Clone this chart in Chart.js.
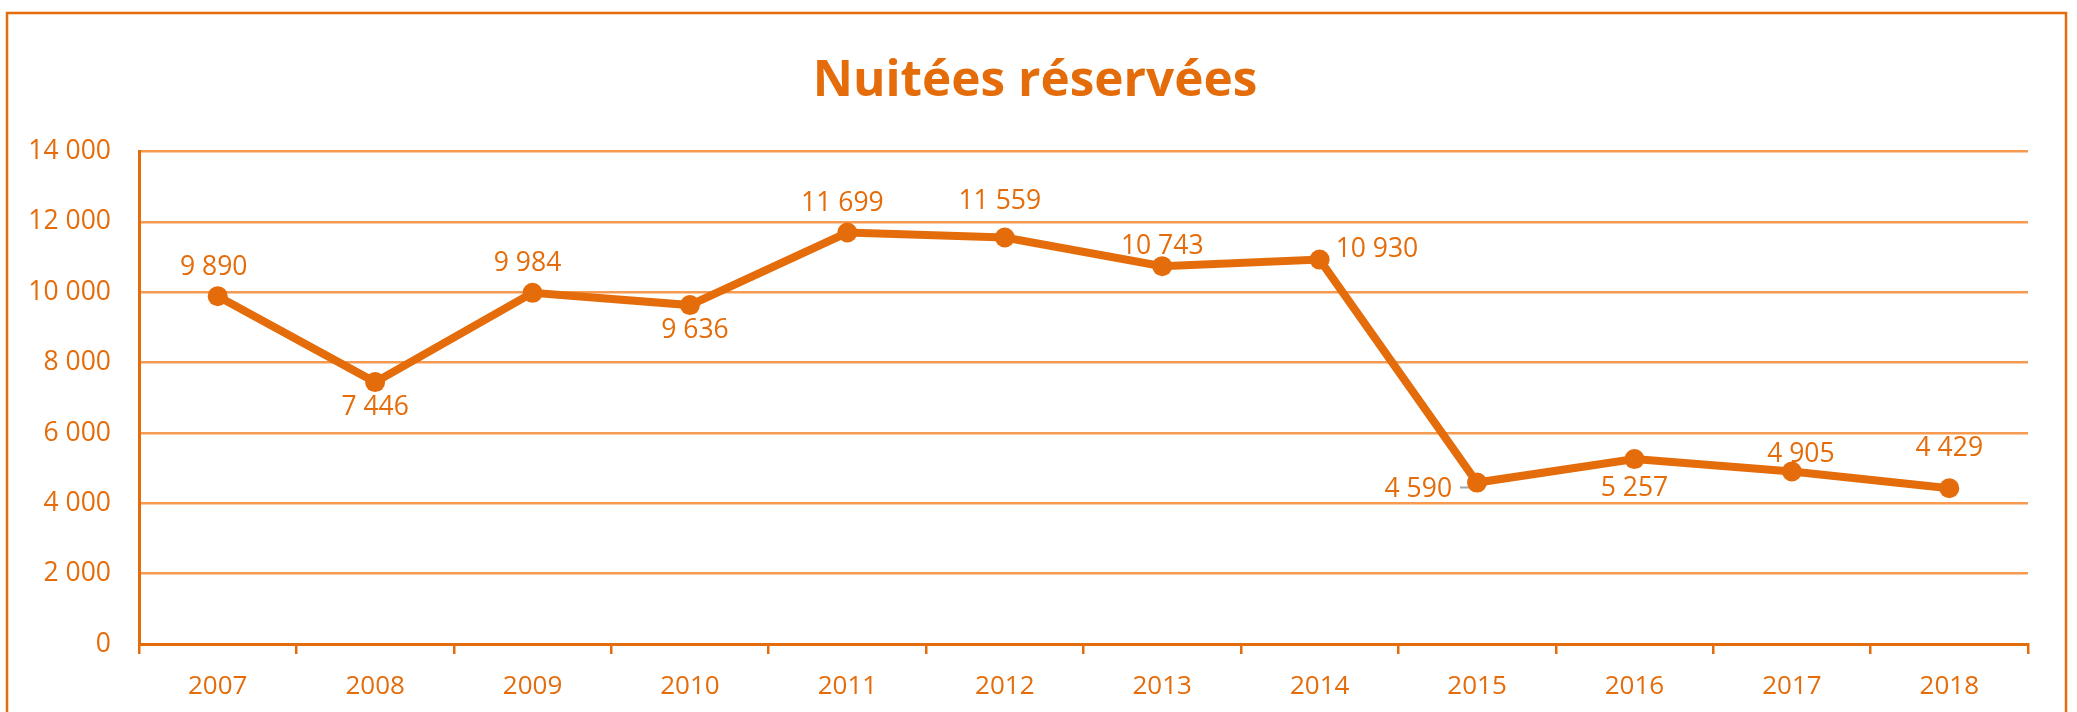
<!DOCTYPE html>
<html>
<head>
<meta charset="utf-8">
<script src="https://cdn.jsdelivr.net/npm/chart.js@4/dist/chart.umd.min.js"></script>
<style>
  html, body { margin: 0; padding: 0; background: #ffffff; }
  #wrap { position: relative; width: 2077px; height: 712px; }
</style>
</head>
<body>
<div id="wrap"><canvas id="c" width="2077" height="712"></canvas></div>
<script>
// ---- data ----
const years = ['2007','2008','2009','2010','2011','2012','2013','2014','2015','2016','2017','2018'];
const nuitees = [9890, 7446, 9984, 9636, 11699, 11559, 10743, 10930, 4590, 5257, 4905, 4429];
const yTicks = [0, 2000, 4000, 6000, 8000, 10000, 12000, 14000];
const chartTitle = 'Nuitées réservées';

// ---- label layout (placement + nudge in px) ----
const labelPlace = ['top','bottom','top','bottom','top','top','top','right','left','bottom','top','top'];
const labelNudge = [[-4,-29],[0,25],[-5,-29],[5,25],[-5,-29],[-5,-36],[0,-20],[16,-10],[-25,7],[0,29],[9,-17],[0,-40]];

const ORANGE = '#E46C0A';
const GRID = '#F59A50';
const FONT = "'Open Sans', 'DejaVu Sans', sans-serif";

const fmt = v => String(v).replace(/\B(?=(\d{3})+(?!\d))/g, ' ');

const framePlugin = {
  id: 'frame',
  beforeDraw(chart) {
    const ctx = chart.ctx;
    ctx.save();
    ctx.fillStyle = '#ffffff';
    ctx.fillRect(0, 0, chart.width, chart.height);
    ctx.strokeStyle = ORANGE;
    ctx.lineWidth = 2.5;
    ctx.strokeRect(7, 13, 2059, 720);
    ctx.restore();
  }
};

// y-axis tick labels, right-aligned 28px left of the axis, positioned by the y scale
const yLabelsPlugin = {
  id: 'yLabels',
  afterDraw(chart) {
    const s = chart.scales.y;
    const ctx = chart.ctx;
    ctx.save();
    ctx.font = '26.5px ' + FONT;
    ctx.fillStyle = ORANGE;
    ctx.textAlign = 'right';
    ctx.textBaseline = 'middle';
    s.ticks.forEach(t => {
      ctx.fillText(fmt(t.value), chart.chartArea.left - 28, s.getPixelForValue(t.value));
    });
    ctx.restore();
  }
};

const labelsPlugin = {
  id: 'valueLabels',
  beforeDatasetsDraw(chart) {
    const meta = chart.getDatasetMeta(0);
    const ctx = chart.ctx;
    ctx.save();
    meta.data.forEach((pt, i) => {
      if (labelPlace[i] !== 'left') return;
      const rightEdge = pt.x + labelNudge[i][0];
      ctx.strokeStyle = '#A6A6A6';
      ctx.lineWidth = 2;
      ctx.beginPath();
      ctx.moveTo(rightEdge + 8, pt.y + 5);
      ctx.lineTo(pt.x, pt.y + 5);
      ctx.lineTo(pt.x, pt.y + 1);
      ctx.stroke();
    });
    ctx.restore();
  },
  afterDatasetsDraw(chart) {
    const meta = chart.getDatasetMeta(0);
    const ctx = chart.ctx;
    ctx.save();
    ctx.font = '26.5px ' + FONT;
    ctx.fillStyle = ORANGE;
    ctx.textBaseline = 'middle';
    meta.data.forEach((pt, i) => {
      const txt = fmt(nuitees[i]);
      const p = labelPlace[i];
      const [dx, dy] = labelNudge[i];
      ctx.textAlign = p === 'right' ? 'left' : (p === 'left' ? 'right' : 'center');
      ctx.fillText(txt, pt.x + dx, pt.y + dy);
    });
    ctx.restore();
  }
};

new Chart(document.getElementById('c'), {
  type: 'line',
  data: {
    labels: years,
    datasets: [{
      data: nuitees,
      borderColor: ORANGE,
      backgroundColor: ORANGE,
      borderWidth: 8,
      tension: 0,
      pointRadius: 10,
      pointHoverRadius: 10,
      pointBackgroundColor: ORANGE,
      pointBorderWidth: 0,
      fill: false
    }]
  },
  options: {
    responsive: false,
    animation: false,
    devicePixelRatio: 1,
    layout: { padding: { left: 42, right: 49, top: 0, bottom: 0 } },
    plugins: {
      legend: { display: false },
      tooltip: { enabled: false },
      title: {
        display: true,
        text: chartTitle,
        color: ORANGE,
        font: { family: FONT, size: 49.5, weight: 'bold', lineHeight: 1.2 },
        padding: { top: 52, bottom: 40.2 }
      }
    },
    scales: {
      x: {
        offset: true,
        grid: {
          display: true,
          offset: true,
          drawOnChartArea: false,
          drawTicks: true,
          tickLength: 10,
          color: ORANGE,
          lineWidth: 2.5
        },
        border: { display: true, color: ORANGE, width: 3 },
        ticks: {
          color: ORANGE,
          font: { family: FONT, size: 26 },
          padding: 17,
          maxRotation: 0,
          autoSkip: false
        },
        afterFit(scale) { scale.height = 68; }
      },
      y: {
        min: 0,
        max: 14000,
        afterBuildTicks(scale) { scale.ticks = yTicks.map(v => ({ value: v })); },
        grid: { color: GRID, lineWidth: 2.5, drawTicks: false },
        border: { display: true, color: ORANGE, width: 3 },
        ticks: { display: false },
        afterFit(scale) { scale.width = 97; }
      }
    }
  },
  plugins: [framePlugin, yLabelsPlugin, labelsPlugin]
});
</script>
</body>
</html>
